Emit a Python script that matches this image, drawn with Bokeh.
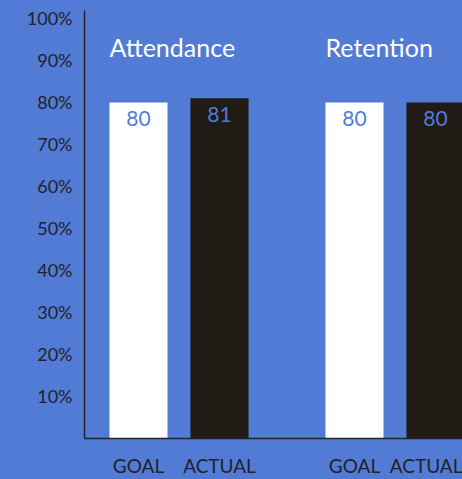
from bokeh.plotting import figure
from bokeh.models import Range1d, FixedTicker, PrintfTickFormatter, ColumnDataSource
from bokeh.core.properties import value
from bokeh.embed import file_html
from bokeh.resources import INLINE

# ---- data ----
groups = ["Attendance", "Retention"]
series = ["GOAL", "ACTUAL"]
goal_values = [80, 80]
actual_values = [81, 80]
y_ticks = [10, 20, 30, 40, 50, 60, 70, 80, 90, 100]

# ---- style / layout ----
BG = "#527bd6"
DARK = "#201c15"
TEXT_DARK = "#222228"
FONT = "Lato"
GROUP_STEP = 8
SUB_STEP = 3
BAR_W = 2.15
TITLE_Y = 93.3

series_values = {"GOAL": goal_values, "ACTUAL": actual_values}
series_colors = {"GOAL": "#ffffff", "ACTUAL": DARK}

xs, tops, colors, labels = [], [], [], []
tick_pos, tick_text = [], []
title_x = []
for gi, g in enumerate(groups):
    for si, s in enumerate(series):
        x = gi * GROUP_STEP + si * SUB_STEP
        xs.append(x)
        tops.append(series_values[s][gi])
        colors.append(series_colors[s])
        labels.append(str(series_values[s][gi]))
        tick_pos.append(x)
        tick_text.append(s)
    title_x.append(gi * GROUP_STEP - BAR_W / 2)

src = ColumnDataSource(dict(x=xs, top=tops, color=colors, label=labels))
tsrc = ColumnDataSource(dict(x=title_x, y=[TITLE_Y] * len(groups), text=groups))

p = figure(width=462, height=479, output_backend="svg", toolbar_location=None,
           x_range=Range1d(-2, 12), y_range=Range1d(0, 101.9),
           min_border_left=84, min_border_right=0, min_border_top=10, min_border_bottom=41)
p.background_fill_color = BG
p.border_fill_color = BG
p.outline_line_color = None
p.grid.grid_line_color = None

p.vbar(x="x", top="top", bottom=0, width=BAR_W, color="color", line_color=None, source=src)
p.text(x="x", y="top", text="label", source=src, text_align="center", text_baseline="middle",
       y_offset=16, text_color=BG, text_font=value(FONT), text_font_size="21px")
p.text(x="x", y="y", text="text", source=tsrc, text_align="left", text_baseline="middle",
       text_color="#ffffff", text_font=value(FONT), text_font_size="25px")

ya = p.yaxis[0]
ya.ticker = FixedTicker(ticks=y_ticks)
ya.formatter = PrintfTickFormatter(format="%d%%")
ya.major_label_standoff = 12
xa = p.xaxis[0]
xa.ticker = FixedTicker(ticks=tick_pos)
xa.major_label_overrides = {pos: t for pos, t in zip(tick_pos, tick_text)}
xa.major_label_standoff = 15
for ax in (xa, ya):
    ax.axis_line_color = TEXT_DARK
    ax.axis_line_width = 1.5
    ax.major_tick_line_color = None
    ax.minor_tick_line_color = None
    ax.major_tick_out = 0
    ax.major_tick_in = 0
    ax.minor_tick_out = 0
    ax.minor_tick_in = 0
    ax.major_label_text_color = TEXT_DARK
    ax.major_label_text_font = FONT
ya.major_label_text_font_size = "18px"
xa.major_label_text_font_size = "19px"

html = file_html(p, INLINE)
html = html.replace("</head>", "<style>html,body{margin:0;padding:0;background:%s;overflow:hidden;}</style></head>" % BG, 1)
open("out.html", "w").write(html)
